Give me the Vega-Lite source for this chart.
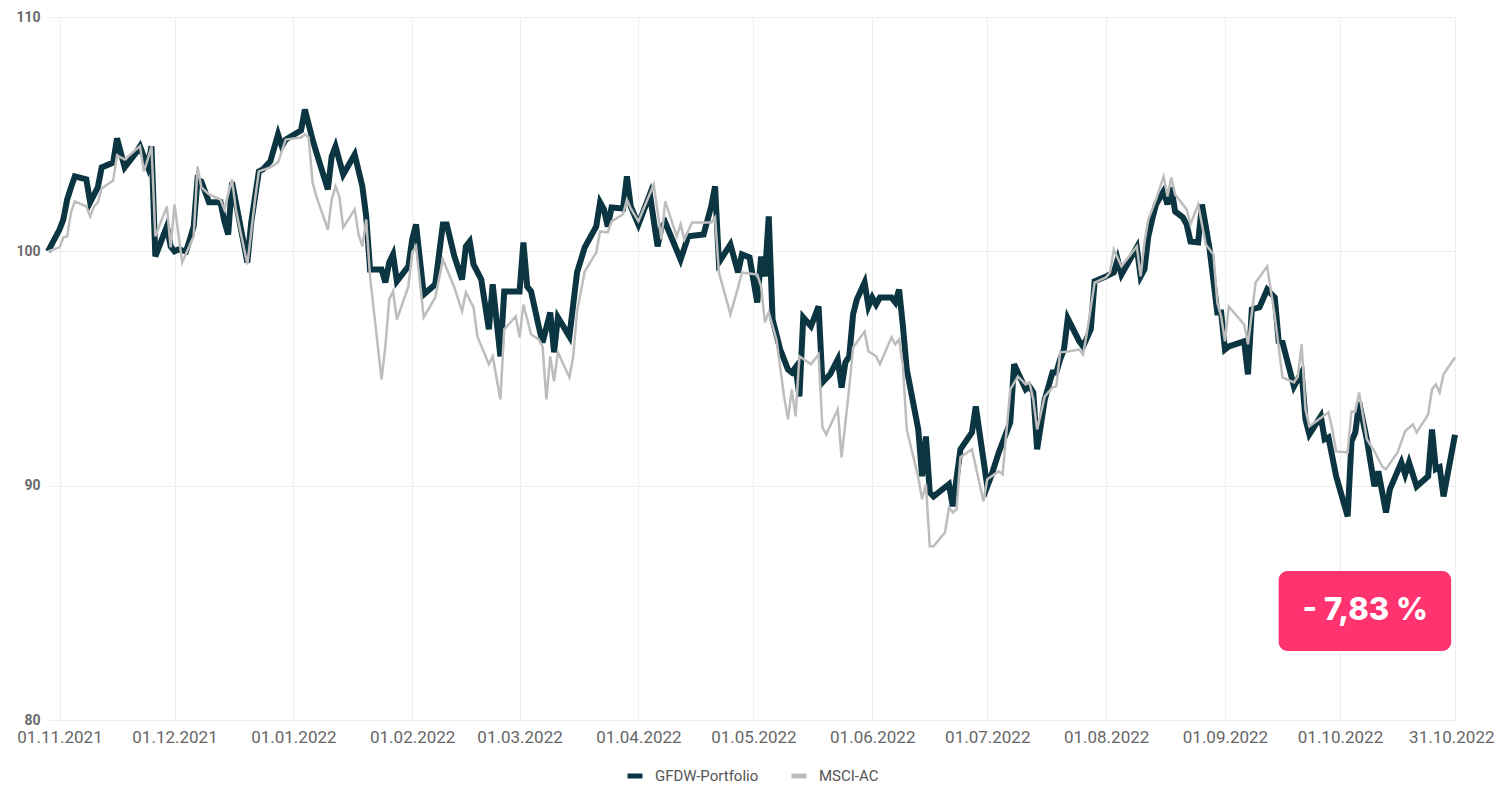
{
  "$schema": "https://vega.github.io/schema/vega-lite/v6.json",
  "width": 1407,
  "height": 703,
  "autosize": {"type": "none"},
  "padding": {"left": 48, "top": 17, "right": 46, "bottom": 69},
  "background": "white",
  "config": {
    "view": {"stroke": null},
    "font": "Roboto",
    "legend": {"layout": {"bottom": {"anchor": "middle"}}}
  },
  "datasets": {
    "gfdw": [
      {"d":"2021-10-29","v":100.00},{"d":"2021-11-01","v":100.93},{"d":"2021-11-02","v":101.36},{"d":"2021-11-03","v":102.21},{"d":"2021-11-04","v":102.73},{"d":"2021-11-05","v":103.20},{"d":"2021-11-08","v":103.07},{"d":"2021-11-09","v":102.09},{"d":"2021-11-11","v":102.73},{"d":"2021-11-12","v":103.58},{"d":"2021-11-15","v":103.79},{"d":"2021-11-16","v":104.82},{"d":"2021-11-18","v":103.58},{"d":"2021-11-21","v":104.22},{"d":"2021-11-22","v":104.48},{"d":"2021-11-24","v":103.62},{"d":"2021-11-25","v":104.48},{"d":"2021-11-26","v":99.78},{"d":"2021-11-28","v":100.64},{"d":"2021-11-29","v":101.06},{"d":"2021-11-30","v":100.21},
      {"d":"2021-12-01","v":100.00},{"d":"2021-12-02","v":100.08},{"d":"2021-12-04","v":100.00},{"d":"2021-12-05","v":100.51},{"d":"2021-12-06","v":101.06},{"d":"2021-12-07","v":103.07},{"d":"2021-12-08","v":102.98},{"d":"2021-12-10","v":102.09},{"d":"2021-12-11","v":102.09},{"d":"2021-12-13","v":102.09},{"d":"2021-12-14","v":101.28},{"d":"2021-12-15","v":100.72},{"d":"2021-12-16","v":102.94},{"d":"2021-12-20","v":99.53},{"d":"2021-12-21","v":101.23},{"d":"2021-12-23","v":103.41},{"d":"2021-12-24","v":103.49},{"d":"2021-12-26","v":103.84},{"d":"2021-12-28","v":104.99},{"d":"2021-12-29","v":104.48},{"d":"2021-12-30","v":104.77},
      {"d":"2022-01-03","v":105.16},{"d":"2022-01-04","v":106.05},{"d":"2022-01-06","v":104.77},{"d":"2022-01-07","v":104.22},{"d":"2022-01-10","v":102.64},{"d":"2022-01-11","v":104.05},{"d":"2022-01-12","v":104.48},{"d":"2022-01-14","v":103.28},{"d":"2022-01-17","v":104.13},{"d":"2022-01-19","v":102.77},{"d":"2022-01-20","v":101.49},{"d":"2022-01-21","v":99.23},{"d":"2022-01-24","v":99.23},{"d":"2022-01-25","v":98.67},{"d":"2022-01-26","v":99.53},{"d":"2022-01-27","v":99.87},{"d":"2022-01-28","v":98.72},{"d":"2022-01-31","v":99.36},
      {"d":"2022-02-01","v":100.51},{"d":"2022-02-02","v":101.15},{"d":"2022-02-04","v":98.16},{"d":"2022-02-07","v":98.59},{"d":"2022-02-09","v":101.15},{"d":"2022-02-10","v":101.15},{"d":"2022-02-12","v":99.78},{"d":"2022-02-14","v":98.80},{"d":"2022-02-15","v":100.21},{"d":"2022-02-16","v":100.42},{"d":"2022-02-17","v":99.44},{"d":"2022-02-19","v":98.80},{"d":"2022-02-21","v":96.67},{"d":"2022-02-22","v":98.59},{"d":"2022-02-24","v":95.52},{"d":"2022-02-25","v":98.29},
      {"d":"2022-03-01","v":98.29},{"d":"2022-03-02","v":100.38},{"d":"2022-03-03","v":98.50},{"d":"2022-03-04","v":98.29},{"d":"2022-03-06","v":96.80},{"d":"2022-03-07","v":96.11},{"d":"2022-03-09","v":97.39},{"d":"2022-03-10","v":95.69},{"d":"2022-03-11","v":97.18},{"d":"2022-03-14","v":96.37},{"d":"2022-03-16","v":99.10},{"d":"2022-03-18","v":100.17},{"d":"2022-03-21","v":101.06},{"d":"2022-03-22","v":102.09},{"d":"2022-03-23","v":101.79},{"d":"2022-03-24","v":101.06},{"d":"2022-03-25","v":101.87},{"d":"2022-03-28","v":101.83},{"d":"2022-03-29","v":103.20},{"d":"2022-03-30","v":101.92},
      {"d":"2022-04-01","v":101.15},{"d":"2022-04-04","v":102.43},{"d":"2022-04-06","v":100.21},{"d":"2022-04-07","v":101.02},{"d":"2022-04-08","v":101.23},{"d":"2022-04-12","v":99.65},{"d":"2022-04-14","v":100.64},{"d":"2022-04-18","v":100.72},{"d":"2022-04-20","v":101.92},{"d":"2022-04-21","v":102.77},{"d":"2022-04-22","v":99.53},{"d":"2022-04-25","v":100.29},{"d":"2022-04-27","v":99.10},{"d":"2022-04-28","v":99.87},{"d":"2022-04-30","v":99.74},
      {"d":"2022-05-02","v":97.82},{"d":"2022-05-03","v":99.78},{"d":"2022-05-04","v":98.93},{"d":"2022-05-05","v":101.49},{"d":"2022-05-06","v":97.09},{"d":"2022-05-08","v":95.81},{"d":"2022-05-10","v":94.96},{"d":"2022-05-11","v":94.83},{"d":"2022-05-12","v":95.05},{"d":"2022-05-13","v":93.81},{"d":"2022-05-14","v":97.18},{"d":"2022-05-16","v":96.80},{"d":"2022-05-18","v":97.65},{"d":"2022-05-19","v":94.41},{"d":"2022-05-21","v":94.75},{"d":"2022-05-23","v":95.39},{"d":"2022-05-24","v":94.19},{"d":"2022-05-25","v":95.26},{"d":"2022-05-26","v":95.52},{"d":"2022-05-27","v":97.31},{"d":"2022-05-28","v":97.95},{"d":"2022-05-30","v":98.67},{"d":"2022-05-31","v":97.65},
      {"d":"2022-06-01","v":98.03},{"d":"2022-06-02","v":97.73},{"d":"2022-06-03","v":98.03},{"d":"2022-06-06","v":98.03},{"d":"2022-06-07","v":97.82},{"d":"2022-06-08","v":98.37},{"d":"2022-06-09","v":96.80},{"d":"2022-06-10","v":94.96},{"d":"2022-06-13","v":92.40},{"d":"2022-06-14","v":90.40},{"d":"2022-06-15","v":92.10},{"d":"2022-06-16","v":89.71},{"d":"2022-06-17","v":89.54},{"d":"2022-06-21","v":90.06},{"d":"2022-06-22","v":89.12},{"d":"2022-06-24","v":91.55},{"d":"2022-06-27","v":92.27},{"d":"2022-06-28","v":93.38},
      {"d":"2022-07-01","v":89.97},{"d":"2022-07-02","v":90.40},{"d":"2022-07-04","v":91.42},{"d":"2022-07-07","v":92.70},{"d":"2022-07-08","v":95.18},{"d":"2022-07-11","v":94.11},{"d":"2022-07-12","v":94.24},{"d":"2022-07-13","v":93.98},{"d":"2022-07-14","v":91.55},{"d":"2022-07-16","v":93.68},{"d":"2022-07-18","v":94.83},{"d":"2022-07-19","v":94.83},{"d":"2022-07-20","v":95.39},{"d":"2022-07-21","v":95.81},{"d":"2022-07-22","v":97.14},{"d":"2022-07-25","v":96.16},{"d":"2022-07-26","v":95.94},{"d":"2022-07-28","v":96.67},{"d":"2022-07-29","v":98.72},
      {"d":"2022-08-01","v":98.93},{"d":"2022-08-03","v":99.10},{"d":"2022-08-04","v":99.65},{"d":"2022-08-05","v":99.01},{"d":"2022-08-09","v":100.17},{"d":"2022-08-10","v":98.93},{"d":"2022-08-11","v":99.23},{"d":"2022-08-12","v":100.64},{"d":"2022-08-13","v":101.36},{"d":"2022-08-14","v":102.00},{"d":"2022-08-16","v":102.56},{"d":"2022-08-17","v":102.00},{"d":"2022-08-18","v":102.73},{"d":"2022-08-19","v":101.70},{"d":"2022-08-21","v":101.45},{"d":"2022-08-22","v":101.15},{"d":"2022-08-23","v":100.42},{"d":"2022-08-25","v":100.38},{"d":"2022-08-26","v":102.00},{"d":"2022-08-27","v":101.06},{"d":"2022-08-28","v":100.08},{"d":"2022-08-30","v":97.39},{"d":"2022-08-31","v":97.39},
      {"d":"2022-09-01","v":95.81},{"d":"2022-09-02","v":95.94},{"d":"2022-09-06","v":96.16},{"d":"2022-09-07","v":94.75},{"d":"2022-09-08","v":97.52},{"d":"2022-09-10","v":97.61},{"d":"2022-09-12","v":98.37},{"d":"2022-09-14","v":98.03},{"d":"2022-09-15","v":96.16},{"d":"2022-09-16","v":96.11},{"d":"2022-09-19","v":94.24},{"d":"2022-09-20","v":94.54},{"d":"2022-09-21","v":94.83},{"d":"2022-09-22","v":92.83},{"d":"2022-09-23","v":92.19},{"d":"2022-09-26","v":92.96},{"d":"2022-09-27","v":91.98},{"d":"2022-09-28","v":92.06},{"d":"2022-09-30","v":90.40},
      {"d":"2022-10-03","v":88.69},{"d":"2022-10-04","v":91.89},{"d":"2022-10-05","v":92.27},{"d":"2022-10-06","v":93.55},{"d":"2022-10-08","v":91.98},{"d":"2022-10-10","v":89.97},{"d":"2022-10-11","v":90.61},{"d":"2022-10-13","v":88.86},{"d":"2022-10-14","v":89.84},{"d":"2022-10-17","v":90.99},{"d":"2022-10-18","v":90.48},{"d":"2022-10-19","v":90.99},{"d":"2022-10-21","v":89.97},{"d":"2022-10-24","v":90.40},{"d":"2022-10-25","v":92.40},{"d":"2022-10-26","v":90.70},{"d":"2022-10-27","v":90.78},{"d":"2022-10-28","v":89.54},{"d":"2022-10-31","v":92.17}
    ],
    "msci": [
      {"d":"2021-10-29","v":100.00},{"d":"2021-11-01","v":100.17},{"d":"2021-11-02","v":100.59},{"d":"2021-11-03","v":100.64},{"d":"2021-11-04","v":101.66},{"d":"2021-11-05","v":102.13},{"d":"2021-11-08","v":101.92},{"d":"2021-11-09","v":101.49},{"d":"2021-11-10","v":101.92},{"d":"2021-11-11","v":102.09},{"d":"2021-11-12","v":102.68},{"d":"2021-11-15","v":103.02},{"d":"2021-11-16","v":104.09},{"d":"2021-11-18","v":103.92},{"d":"2021-11-21","v":104.35},{"d":"2021-11-22","v":104.49},{"d":"2021-11-23","v":103.41},{"d":"2021-11-24","v":103.92},{"d":"2021-11-25","v":104.48},{"d":"2021-11-26","v":100.64},{"d":"2021-11-29","v":101.92},{"d":"2021-11-30","v":100.17},
      {"d":"2021-12-01","v":102.00},{"d":"2021-12-03","v":99.53},{"d":"2021-12-06","v":100.64},{"d":"2021-12-07","v":103.62},{"d":"2021-12-08","v":102.73},{"d":"2021-12-10","v":102.43},{"d":"2021-12-13","v":102.21},{"d":"2021-12-14","v":101.79},{"d":"2021-12-16","v":103.07},{"d":"2021-12-17","v":101.79},{"d":"2021-12-20","v":99.44},{"d":"2021-12-22","v":102.21},{"d":"2021-12-23","v":103.41},{"d":"2021-12-26","v":103.58},{"d":"2021-12-28","v":103.79},{"d":"2021-12-30","v":104.77},
      {"d":"2022-01-03","v":104.86},{"d":"2022-01-04","v":104.99},{"d":"2022-01-05","v":104.86},{"d":"2022-01-06","v":102.94},{"d":"2022-01-07","v":102.34},{"d":"2022-01-10","v":100.93},{"d":"2022-01-11","v":102.21},{"d":"2022-01-12","v":102.77},{"d":"2022-01-13","v":102.34},{"d":"2022-01-14","v":101.02},{"d":"2022-01-17","v":101.79},{"d":"2022-01-18","v":100.72},{"d":"2022-01-19","v":100.21},{"d":"2022-01-20","v":101.36},{"d":"2022-01-21","v":98.93},{"d":"2022-01-24","v":94.54},{"d":"2022-01-25","v":95.94},{"d":"2022-01-26","v":97.95},{"d":"2022-01-27","v":98.29},{"d":"2022-01-28","v":97.09},{"d":"2022-01-31","v":98.50},
      {"d":"2022-02-01","v":99.95},{"d":"2022-02-02","v":100.21},{"d":"2022-02-04","v":97.18},{"d":"2022-02-07","v":98.03},{"d":"2022-02-09","v":99.65},{"d":"2022-02-12","v":98.46},{"d":"2022-02-14","v":97.44},{"d":"2022-02-15","v":98.25},{"d":"2022-02-17","v":97.61},{"d":"2022-02-18","v":96.37},{"d":"2022-02-21","v":95.18},{"d":"2022-02-22","v":95.52},{"d":"2022-02-24","v":93.68},{"d":"2022-02-25","v":96.67},{"d":"2022-02-28","v":97.22},
      {"d":"2022-03-01","v":96.33},{"d":"2022-03-02","v":97.73},{"d":"2022-03-04","v":96.46},{"d":"2022-03-06","v":96.24},{"d":"2022-03-07","v":95.94},{"d":"2022-03-08","v":93.68},{"d":"2022-03-09","v":95.52},{"d":"2022-03-10","v":94.45},{"d":"2022-03-11","v":95.69},{"d":"2022-03-14","v":94.62},{"d":"2022-03-15","v":95.52},{"d":"2022-03-16","v":97.44},{"d":"2022-03-18","v":99.14},{"d":"2022-03-21","v":99.95},{"d":"2022-03-22","v":100.85},{"d":"2022-03-24","v":100.81},{"d":"2022-03-25","v":101.28},{"d":"2022-03-28","v":101.58},{"d":"2022-03-29","v":102.21},{"d":"2022-03-30","v":101.83},
      {"d":"2022-04-01","v":101.28},{"d":"2022-04-05","v":102.85},{"d":"2022-04-07","v":100.51},{"d":"2022-04-08","v":102.13},{"d":"2022-04-11","v":100.64},{"d":"2022-04-12","v":101.15},{"d":"2022-04-13","v":100.51},{"d":"2022-04-15","v":101.23},{"d":"2022-04-20","v":101.23},{"d":"2022-04-21","v":101.45},{"d":"2022-04-22","v":99.10},{"d":"2022-04-25","v":97.31},{"d":"2022-04-27","v":98.46},{"d":"2022-04-28","v":99.10},
      {"d":"2022-05-02","v":99.01},{"d":"2022-05-03","v":98.50},{"d":"2022-05-04","v":96.97},{"d":"2022-05-05","v":97.39},{"d":"2022-05-07","v":96.24},{"d":"2022-05-09","v":93.81},{"d":"2022-05-10","v":92.83},{"d":"2022-05-11","v":94.11},{"d":"2022-05-12","v":92.96},{"d":"2022-05-13","v":95.52},{"d":"2022-05-16","v":95.18},{"d":"2022-05-18","v":95.60},{"d":"2022-05-19","v":92.49},{"d":"2022-05-20","v":92.19},{"d":"2022-05-23","v":93.26},{"d":"2022-05-24","v":91.21},{"d":"2022-05-26","v":94.19},{"d":"2022-05-27","v":95.90},{"d":"2022-05-30","v":96.58},{"d":"2022-05-31","v":95.73},
      {"d":"2022-06-02","v":95.52},{"d":"2022-06-03","v":95.18},{"d":"2022-06-06","v":96.33},{"d":"2022-06-07","v":96.03},{"d":"2022-06-08","v":96.24},{"d":"2022-06-09","v":95.09},{"d":"2022-06-10","v":92.40},{"d":"2022-06-13","v":90.35},{"d":"2022-06-14","v":89.42},{"d":"2022-06-15","v":90.06},{"d":"2022-06-16","v":87.41},{"d":"2022-06-17","v":87.41},{"d":"2022-06-20","v":88.01},{"d":"2022-06-21","v":89.07},{"d":"2022-06-22","v":88.86},{"d":"2022-06-23","v":88.99},{"d":"2022-06-24","v":91.21},{"d":"2022-06-27","v":91.55},{"d":"2022-06-30","v":89.33},
      {"d":"2022-07-01","v":90.27},{"d":"2022-07-04","v":90.61},{"d":"2022-07-05","v":90.48},{"d":"2022-07-07","v":94.11},{"d":"2022-07-09","v":94.66},{"d":"2022-07-11","v":94.32},{"d":"2022-07-12","v":94.41},{"d":"2022-07-13","v":93.68},{"d":"2022-07-14","v":92.40},{"d":"2022-07-16","v":93.81},{"d":"2022-07-18","v":94.19},{"d":"2022-07-19","v":94.24},{"d":"2022-07-20","v":95.69},{"d":"2022-07-22","v":95.73},{"d":"2022-07-25","v":95.81},{"d":"2022-07-26","v":95.60},{"d":"2022-07-27","v":96.54},{"d":"2022-07-29","v":98.67},
      {"d":"2022-08-01","v":98.89},{"d":"2022-08-02","v":99.10},{"d":"2022-08-03","v":100.08},{"d":"2022-08-05","v":99.36},{"d":"2022-08-09","v":100.21},{"d":"2022-08-10","v":98.93},{"d":"2022-08-11","v":100.38},{"d":"2022-08-12","v":101.36},{"d":"2022-08-14","v":102.21},{"d":"2022-08-16","v":103.20},{"d":"2022-08-17","v":102.34},{"d":"2022-08-18","v":103.15},{"d":"2022-08-19","v":102.43},{"d":"2022-08-22","v":101.79},{"d":"2022-08-23","v":101.15},{"d":"2022-08-25","v":102.00},{"d":"2022-08-27","v":100.29},{"d":"2022-08-29","v":99.87},{"d":"2022-08-30","v":97.82},{"d":"2022-08-31","v":97.22},
      {"d":"2022-09-01","v":96.16},{"d":"2022-09-02","v":97.65},{"d":"2022-09-06","v":96.88},{"d":"2022-09-07","v":96.03},{"d":"2022-09-09","v":98.67},{"d":"2022-09-10","v":98.89},{"d":"2022-09-12","v":99.36},{"d":"2022-09-14","v":97.22},{"d":"2022-09-16","v":94.62},{"d":"2022-09-19","v":94.41},{"d":"2022-09-20","v":94.66},{"d":"2022-09-21","v":96.03},{"d":"2022-09-22","v":93.26},{"d":"2022-09-23","v":92.53},{"d":"2022-09-28","v":93.13},{"d":"2022-09-29","v":92.40},{"d":"2022-09-30","v":91.46},
      {"d":"2022-10-03","v":91.42},{"d":"2022-10-04","v":93.17},{"d":"2022-10-05","v":93.17},{"d":"2022-10-06","v":93.98},{"d":"2022-10-08","v":91.98},{"d":"2022-10-10","v":91.46},{"d":"2022-10-12","v":90.82},{"d":"2022-10-13","v":90.70},{"d":"2022-10-16","v":91.42},{"d":"2022-10-18","v":92.32},{"d":"2022-10-20","v":92.62},{"d":"2022-10-21","v":92.27},{"d":"2022-10-24","v":93.04},{"d":"2022-10-25","v":94.11},{"d":"2022-10-26","v":94.32},{"d":"2022-10-27","v":93.98},{"d":"2022-10-28","v":94.75},{"d":"2022-10-31","v":95.47}
    ],
    "badge": [
      {"x1":"2022-09-15","x2":"2022-10-30","y1":82.94,"y2":86.36,"xm":"2022-10-07T14:00:00Z","ym":84.65,"label":"- 7,83 %"}
    ]
  },
  "layer": [
    {
      "data": {"name": "gfdw"},
      "mark": {"type": "line", "strokeWidth": 6, "strokeJoin": "miter"},
      "encoding": {
        "x": {
          "field": "d", "type": "temporal",
          "scale": {"type": "utc", "domain": [{"year": 2021, "month": 10, "date": 29, "utc": true}, {"year": 2022, "month": 10, "date": 31, "utc": true}]},
          "axis": {
            "title": null,
            "values": [
              {"year": 2021, "month": 11, "date": 1, "utc": true},
              {"year": 2021, "month": 12, "date": 1, "utc": true},
              {"year": 2022, "month": 1, "date": 1, "utc": true},
              {"year": 2022, "month": 2, "date": 1, "utc": true},
              {"year": 2022, "month": 3, "date": 1, "utc": true},
              {"year": 2022, "month": 4, "date": 1, "utc": true},
              {"year": 2022, "month": 5, "date": 1, "utc": true},
              {"year": 2022, "month": 6, "date": 1, "utc": true},
              {"year": 2022, "month": 7, "date": 1, "utc": true},
              {"year": 2022, "month": 8, "date": 1, "utc": true},
              {"year": 2022, "month": 9, "date": 1, "utc": true},
              {"year": 2022, "month": 10, "date": 1, "utc": true},
              {"year": 2022, "month": 10, "date": 31, "utc": true}
            ],
            "format": "%d.%m.%Y",
            "labelFont": "Roboto",
            "labelFontSize": 17,
            "labelColor": "#666666",
            "labelPadding": 9,
            "labelOverlap": false,
            "labelFlush": 1,
            "labelFlushOffset": 39,
            "ticks": false,
            "domain": false,
            "grid": true,
            "gridColor": "#eeeeee",
            "gridWidth": 1
          }
        },
        "y": {
          "field": "v", "type": "quantitative",
          "scale": {"domain": [80, 110], "nice": false, "zero": false},
          "axis": {
            "title": null,
            "values": [80, 90, 100, 110],
            "labelFont": "Roboto",
            "labelFontSize": 14,
            "labelFontWeight": "bold",
            "labelColor": "#6b6b6b",
            "labelPadding": 8,
            "ticks": false,
            "domain": false,
            "grid": true,
            "gridColor": "#eeeeee",
            "gridWidth": 1
          }
        },
        "color": {
          "datum": "GFDW-Portfolio",
          "scale": {"domain": ["GFDW-Portfolio", "MSCI-AC"], "range": ["#0b3540", "#bdbdbd"]},
          "legend": {
            "title": null,
            "orient": "bottom",
            "direction": "horizontal",
            "symbolType": "stroke",
            "symbolStrokeWidth": 5,
            "symbolSize": 225,
            "labelFont": "Roboto",
            "labelFontSize": 15,
            "labelColor": "#555555",
            "labelOffset": 10,
            "columnPadding": 22,
            "offset": 21
          }
        }
      }
    },
    {
      "data": {"name": "msci"},
      "mark": {"type": "line", "strokeWidth": 2.5, "strokeJoin": "miter"},
      "encoding": {
        "x": {"field": "d", "type": "temporal"},
        "y": {"field": "v", "type": "quantitative"},
        "color": {"datum": "MSCI-AC"}
      }
    },
    {
      "data": {"name": "badge"},
      "mark": {"type": "rect", "cornerRadius": 9, "fill": "#ff3370"},
      "encoding": {
        "x": {"field": "x1", "type": "temporal"},
        "x2": {"field": "x2"},
        "y": {"field": "y1", "type": "quantitative"},
        "y2": {"field": "y2"}
      }
    },
    {
      "data": {"name": "badge"},
      "mark": {"type": "text", "font": "Inter", "fontSize": 31, "fontWeight": 800, "color": "white", "align": "center", "baseline": "middle"},
      "encoding": {
        "x": {"field": "xm", "type": "temporal"},
        "y": {"field": "ym", "type": "quantitative"},
        "text": {"field": "label"}
      }
    }
  ]
}
